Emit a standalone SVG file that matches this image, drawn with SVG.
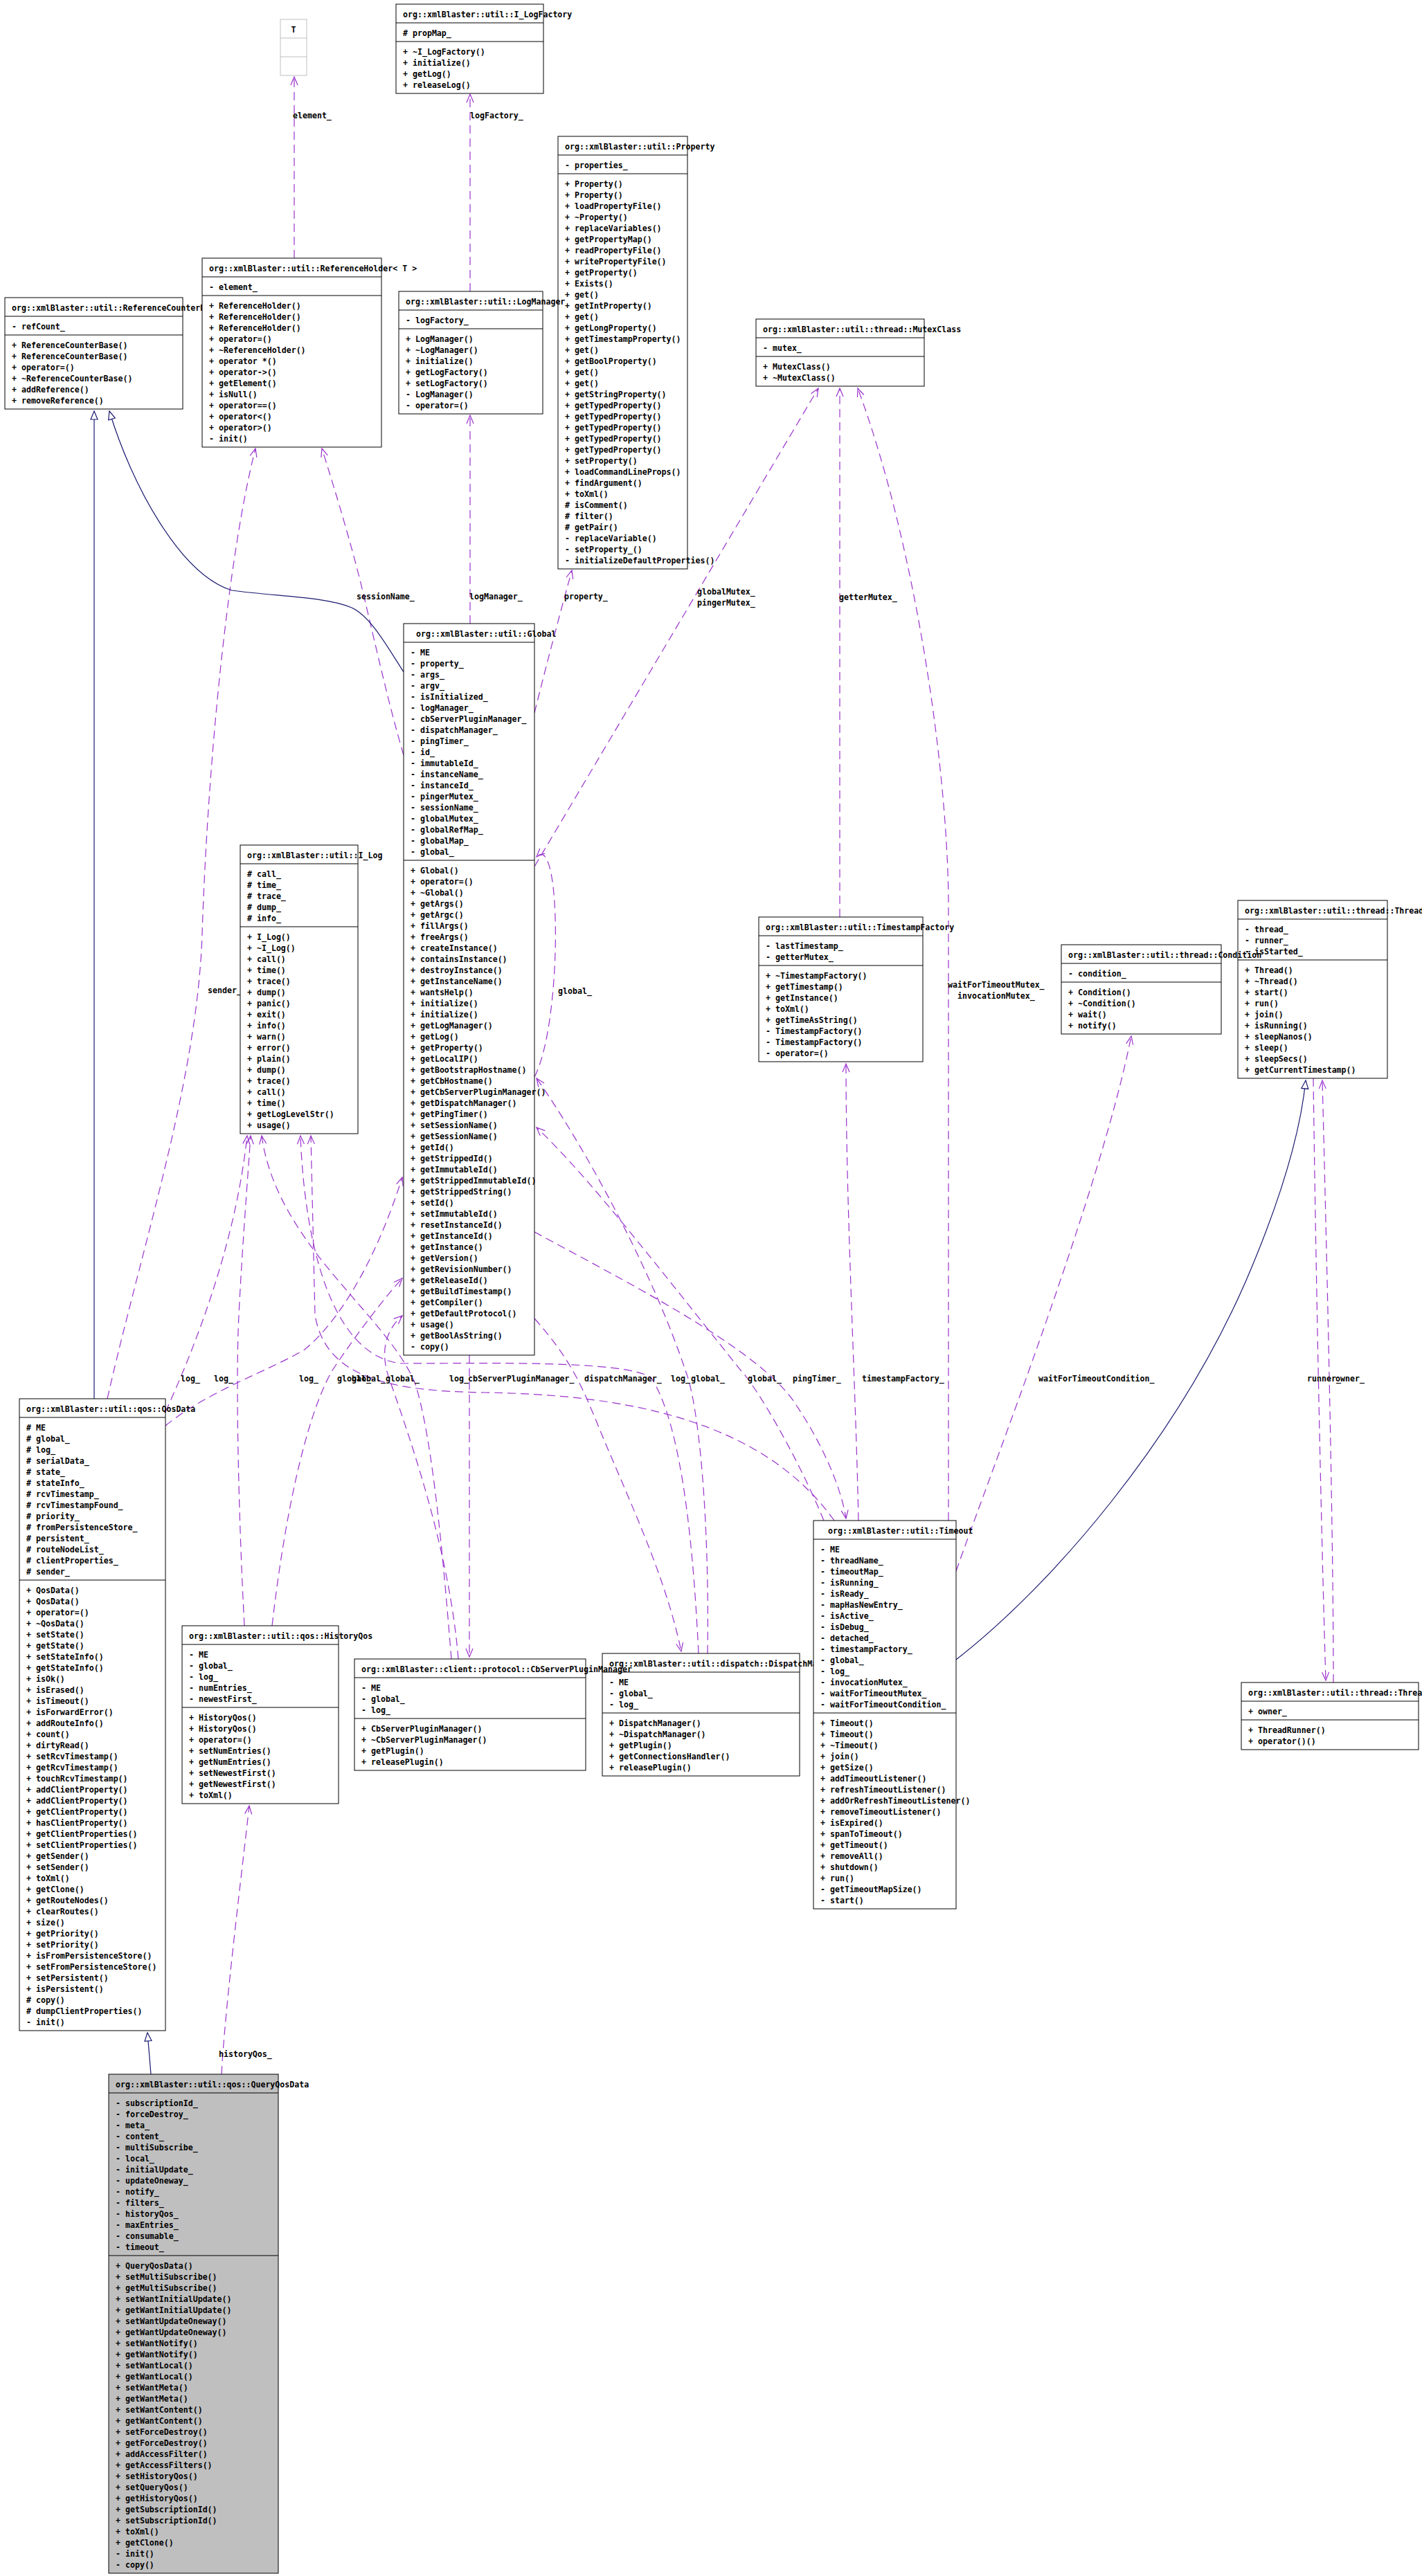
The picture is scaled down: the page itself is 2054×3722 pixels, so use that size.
<svg xmlns="http://www.w3.org/2000/svg" width="2054" height="3722" viewBox="0 0 2054 3722">
<defs>
<style>
.b{fill:#fff;stroke:#000;stroke-width:1}
.q{fill:#bfbfbf;stroke:#000;stroke-width:1}
.d{stroke:#000;stroke-width:1;fill:none}
text{font-family:"DejaVu Sans Mono","Liberation Mono",monospace;font-size:11.6px;font-weight:bold;fill:#000}
.e{fill:none;stroke:#9a32cd;stroke-width:1.2;stroke-dasharray:12,7;marker-end:url(#ah)}
.i{fill:none;stroke:#191970;stroke-width:1.2;marker-end:url(#tri)}
</style>
<marker id="ah" markerUnits="userSpaceOnUse" viewBox="-14 -8 16 16" markerWidth="16" markerHeight="16" refX="0" refY="0" orient="auto"><path d="M-12 -5L0 0L-12 5" fill="none" stroke="#9a32cd" stroke-width="1.2"/></marker>
<marker id="tri" markerUnits="userSpaceOnUse" viewBox="-15 -8 17 16" markerWidth="17" markerHeight="16" refX="0" refY="0" orient="auto"><path d="M-12 -5L0 0L-12 5Z" fill="#fff" stroke="#191970" stroke-width="1.2"/></marker>
</defs>
<rect width="2054" height="3722" fill="#fff"/>
<g id="edges">
<path class="e" d="M425 373V111"/>
<path class="e" d="M679 421V136"/>
<path class="e" d="M679 901V600"/>
<path class="e" d="M772 1030C788 965 812 875 826 824"/>
<path class="e" d="M583 1091C562 1020 542 930 530 880C512 800 485 712 465 648"/>
<path class="e" d="M155 2021C205 1800 285 1560 292 1350C300 1100 330 800 369 648"/>
<path class="e" d="M772 1252L1182 561"/>
<path class="e" d="M1213 1325V561"/>
<path class="e" d="M1370 2197V1300C1368 1100 1320 780 1239 561"/>
<path class="e" d="M1240 2197C1236 2000 1222 1750 1222 1537"/>
<path class="e" d="M1381 2270C1430 2130 1590 1720 1634 1497"/>
<path class="e" d="M1897 1558C1900 1800 1908 2200 1915 2428"/>
<path class="e" d="M1926 2431C1926 2200 1916 1800 1910 1561"/>
<path class="e" d="M678 1958V2394"/>
<path class="e" d="M772 1905C820 1960 835 1990 860 2050C900 2150 960 2270 984 2386"/>
<path class="e" d="M772 1780C900 1850 1100 1950 1150 2030C1190 2090 1215 2150 1222 2194"/>
<path class="e" d="M1022 2389C1025 2200 1010 2030 990 1980C940 1830 840 1650 775 1558"/>
<path class="e" d="M1190 2197C1150 2100 1090 2000 1070 1980C950 1830 850 1700 775 1629"/>
<path class="e" d="M1009 2389C1000 2200 980 2050 940 1990C900 1965 700 1970 580 1970C480 1960 440 1800 434 1641"/>
<path class="e" d="M1205 2197C1100 2050 900 2015 700 2012C560 2010 470 1990 455 1900L449 1641"/>
<path class="e" d="M652 2397C640 2250 625 2080 600 2000C560 1900 400 1800 378 1641"/>
<path class="e" d="M662 2397C650 2250 600 2100 565 2000C545 1950 560 1920 581 1901"/>
<path class="e" d="M353 2349C345 2200 340 2000 345 1900C350 1800 358 1700 362 1641"/>
<path class="e" d="M393 2349C410 2200 440 2050 480 1980C520 1920 560 1870 581 1847"/>
<path class="e" d="M239 2040C280 1950 340 1800 357 1641"/>
<path class="e" d="M239 2060C300 2010 390 1980 440 1950C500 1900 550 1800 581 1701"/>
<path class="e" d="M772 1556C812 1480 812 1200 775 1238"/>
<path class="e" d="M320 2997C325 2900 350 2700 360 2609"/>
<path class="i" d="M136 2021V594"/>
<path class="i" d="M583 971C560 935 535 890 508 878C470 862 400 862 335 853C260 830 190 700 158 594"/>
<path class="i" d="M218 2997L213 2937"/>
<path class="i" d="M1381 2398C1520 2290 1700 2080 1800 1850C1860 1710 1880 1620 1886 1561"/>
<text x="423" y="171">element_</text>
<text x="679" y="171">logFactory_</text>
<text x="515" y="866">sessionName_</text>
<text x="678" y="866">logManager_</text>
<text x="815" y="866">property_</text>
<text x="1007" y="859">globalMutex_</text>
<text x="1007" y="875">pingerMutex_</text>
<text x="1212" y="867">getterMutex_</text>
<text x="300" y="1435">sender_</text>
<text x="806" y="1436">global_</text>
<text x="1369" y="1427">waitForTimeoutMutex_</text>
<text x="1383" y="1443">invocationMutex_</text>
<text x="261" y="1996">log_</text>
<text x="309" y="1996">log_</text>
<text x="432" y="1996">log_</text>
<text x="487" y="1996">global_</text>
<text x="508" y="1996">global_</text>
<text x="557" y="1996">global_</text>
<text x="649" y="1996">log_</text>
<text x="676" y="1996">cbServerPluginManager_</text>
<text x="844" y="1996">dispatchManager_</text>
<text x="969" y="1996">log_</text>
<text x="998" y="1996">global_</text>
<text x="1080" y="1996">global_</text>
<text x="1145" y="1996">pingTimer_</text>
<text x="1245" y="1996">timestampFactory_</text>
<text x="1500" y="1996">waitForTimeoutCondition_</text>
<text x="1888" y="1996">runner_</text>
<text x="1929" y="1996">owner_</text>
<text x="316" y="2972">historyQos_</text>
</g>
<g id="n_T"><rect x="405" y="28" width="38" height="81" fill="#fff" stroke="#bfbfbf"/><path d="M405 55h38M405 82h38" stroke="#bfbfbf"/><text x="424" y="47" text-anchor="middle">T</text></g>
<g id="n_I_LogFactory"><rect class="b" x="572" y="6" width="213" height="129"/><path class="d" d="M572 33h213M572 60h213"/><text x="582" y="25">org::xmlBlaster::util::I_LogFactory</text><text x="582" y="51.5"># propMap_</text><text y="78.5"><tspan x="582">+ ~I_LogFactory()</tspan><tspan x="582" dy="16">+ initialize()</tspan><tspan x="582" dy="16">+ getLog()</tspan><tspan x="582" dy="16">+ releaseLog()</tspan></text></g>
<g id="n_Property"><rect class="b" x="806" y="197" width="187" height="625"/><path class="d" d="M806 224h187M806 251h187"/><text x="816" y="216">org::xmlBlaster::util::Property</text><text x="816" y="242.5">- properties_</text><text y="269.5"><tspan x="816">+ Property()</tspan><tspan x="816" dy="16">+ Property()</tspan><tspan x="816" dy="16">+ loadPropertyFile()</tspan><tspan x="816" dy="16">+ ~Property()</tspan><tspan x="816" dy="16">+ replaceVariables()</tspan><tspan x="816" dy="16">+ getPropertyMap()</tspan><tspan x="816" dy="16">+ readPropertyFile()</tspan><tspan x="816" dy="16">+ writePropertyFile()</tspan><tspan x="816" dy="16">+ getProperty()</tspan><tspan x="816" dy="16">+ Exists()</tspan><tspan x="816" dy="16">+ get()</tspan><tspan x="816" dy="16">+ getIntProperty()</tspan><tspan x="816" dy="16">+ get()</tspan><tspan x="816" dy="16">+ getLongProperty()</tspan><tspan x="816" dy="16">+ getTimestampProperty()</tspan><tspan x="816" dy="16">+ get()</tspan><tspan x="816" dy="16">+ getBoolProperty()</tspan><tspan x="816" dy="16">+ get()</tspan><tspan x="816" dy="16">+ get()</tspan><tspan x="816" dy="16">+ getStringProperty()</tspan><tspan x="816" dy="16">+ getTypedProperty()</tspan><tspan x="816" dy="16">+ getTypedProperty()</tspan><tspan x="816" dy="16">+ getTypedProperty()</tspan><tspan x="816" dy="16">+ getTypedProperty()</tspan><tspan x="816" dy="16">+ getTypedProperty()</tspan><tspan x="816" dy="16">+ setProperty()</tspan><tspan x="816" dy="16">+ loadCommandLineProps()</tspan><tspan x="816" dy="16">+ findArgument()</tspan><tspan x="816" dy="16">+ toXml()</tspan><tspan x="816" dy="16"># isComment()</tspan><tspan x="816" dy="16"># filter()</tspan><tspan x="816" dy="16"># getPair()</tspan><tspan x="816" dy="16">- replaceVariable()</tspan><tspan x="816" dy="16">- setProperty_()</tspan><tspan x="816" dy="16">- initializeDefaultProperties()</tspan></text></g>
<g id="n_LogManager"><rect class="b" x="576" y="421" width="208" height="177"/><path class="d" d="M576 448h208M576 475h208"/><text x="586" y="440">org::xmlBlaster::util::LogManager</text><text x="586" y="466.5">- logFactory_</text><text y="493.5"><tspan x="586">+ LogManager()</tspan><tspan x="586" dy="16">+ ~LogManager()</tspan><tspan x="586" dy="16">+ initialize()</tspan><tspan x="586" dy="16">+ getLogFactory()</tspan><tspan x="586" dy="16">+ setLogFactory()</tspan><tspan x="586" dy="16">- LogManager()</tspan><tspan x="586" dy="16">- operator=()</tspan></text></g>
<g id="n_ReferenceCounterBase"><rect class="b" x="7" y="430" width="257" height="161"/><path class="d" d="M7 457h257M7 484h257"/><text x="17" y="449">org::xmlBlaster::util::ReferenceCounterBase</text><text x="17" y="475.5">- refCount_</text><text y="502.5"><tspan x="17">+ ReferenceCounterBase()</tspan><tspan x="17" dy="16">+ ReferenceCounterBase()</tspan><tspan x="17" dy="16">+ operator=()</tspan><tspan x="17" dy="16">+ ~ReferenceCounterBase()</tspan><tspan x="17" dy="16">+ addReference()</tspan><tspan x="17" dy="16">+ removeReference()</tspan></text></g>
<g id="n_ReferenceHolder"><rect class="b" x="292" y="373" width="259" height="273"/><path class="d" d="M292 400h259M292 427h259"/><text x="302" y="392">org::xmlBlaster::util::ReferenceHolder&lt; T &gt;</text><text x="302" y="418.5">- element_</text><text y="445.5"><tspan x="302">+ ReferenceHolder()</tspan><tspan x="302" dy="16">+ ReferenceHolder()</tspan><tspan x="302" dy="16">+ ReferenceHolder()</tspan><tspan x="302" dy="16">+ operator=()</tspan><tspan x="302" dy="16">+ ~ReferenceHolder()</tspan><tspan x="302" dy="16">+ operator *()</tspan><tspan x="302" dy="16">+ operator-&gt;()</tspan><tspan x="302" dy="16">+ getElement()</tspan><tspan x="302" dy="16">+ isNull()</tspan><tspan x="302" dy="16">+ operator==()</tspan><tspan x="302" dy="16">+ operator&lt;()</tspan><tspan x="302" dy="16">+ operator&gt;()</tspan><tspan x="302" dy="16">- init()</tspan></text></g>
<g id="n_MutexClass"><rect class="b" x="1092" y="461" width="243" height="97"/><path class="d" d="M1092 488h243M1092 515h243"/><text x="1102" y="480">org::xmlBlaster::util::thread::MutexClass</text><text x="1102" y="506.5">- mutex_</text><text y="533.5"><tspan x="1102">+ MutexClass()</tspan><tspan x="1102" dy="16">+ ~MutexClass()</tspan></text></g>
<g id="n_Global"><rect class="b" x="583" y="901" width="189" height="1057"/><path class="d" d="M583 928h189M583 1243h189"/><text x="601" y="920">org::xmlBlaster::util::Global</text><text y="946.5"><tspan x="593">- ME</tspan><tspan x="593" dy="16">- property_</tspan><tspan x="593" dy="16">- args_</tspan><tspan x="593" dy="16">- argv_</tspan><tspan x="593" dy="16">- isInitialized_</tspan><tspan x="593" dy="16">- logManager_</tspan><tspan x="593" dy="16">- cbServerPluginManager_</tspan><tspan x="593" dy="16">- dispatchManager_</tspan><tspan x="593" dy="16">- pingTimer_</tspan><tspan x="593" dy="16">- id_</tspan><tspan x="593" dy="16">- immutableId_</tspan><tspan x="593" dy="16">- instanceName_</tspan><tspan x="593" dy="16">- instanceId_</tspan><tspan x="593" dy="16">- pingerMutex_</tspan><tspan x="593" dy="16">- sessionName_</tspan><tspan x="593" dy="16">- globalMutex_</tspan><tspan x="593" dy="16">- globalRefMap_</tspan><tspan x="593" dy="16">- globalMap_</tspan><tspan x="593" dy="16">- global_</tspan></text><text y="1261.5"><tspan x="593">+ Global()</tspan><tspan x="593" dy="16">+ operator=()</tspan><tspan x="593" dy="16">+ ~Global()</tspan><tspan x="593" dy="16">+ getArgs()</tspan><tspan x="593" dy="16">+ getArgc()</tspan><tspan x="593" dy="16">+ fillArgs()</tspan><tspan x="593" dy="16">+ freeArgs()</tspan><tspan x="593" dy="16">+ createInstance()</tspan><tspan x="593" dy="16">+ containsInstance()</tspan><tspan x="593" dy="16">+ destroyInstance()</tspan><tspan x="593" dy="16">+ getInstanceName()</tspan><tspan x="593" dy="16">+ wantsHelp()</tspan><tspan x="593" dy="16">+ initialize()</tspan><tspan x="593" dy="16">+ initialize()</tspan><tspan x="593" dy="16">+ getLogManager()</tspan><tspan x="593" dy="16">+ getLog()</tspan><tspan x="593" dy="16">+ getProperty()</tspan><tspan x="593" dy="16">+ getLocalIP()</tspan><tspan x="593" dy="16">+ getBootstrapHostname()</tspan><tspan x="593" dy="16">+ getCbHostname()</tspan><tspan x="593" dy="16">+ getCbServerPluginManager()</tspan><tspan x="593" dy="16">+ getDispatchManager()</tspan><tspan x="593" dy="16">+ getPingTimer()</tspan><tspan x="593" dy="16">+ setSessionName()</tspan><tspan x="593" dy="16">+ getSessionName()</tspan><tspan x="593" dy="16">+ getId()</tspan><tspan x="593" dy="16">+ getStrippedId()</tspan><tspan x="593" dy="16">+ getImmutableId()</tspan><tspan x="593" dy="16">+ getStrippedImmutableId()</tspan><tspan x="593" dy="16">+ getStrippedString()</tspan><tspan x="593" dy="16">+ setId()</tspan><tspan x="593" dy="16">+ setImmutableId()</tspan><tspan x="593" dy="16">+ resetInstanceId()</tspan><tspan x="593" dy="16">+ getInstanceId()</tspan><tspan x="593" dy="16">+ getInstance()</tspan><tspan x="593" dy="16">+ getVersion()</tspan><tspan x="593" dy="16">+ getRevisionNumber()</tspan><tspan x="593" dy="16">+ getReleaseId()</tspan><tspan x="593" dy="16">+ getBuildTimestamp()</tspan><tspan x="593" dy="16">+ getCompiler()</tspan><tspan x="593" dy="16">+ getDefaultProtocol()</tspan><tspan x="593" dy="16">+ usage()</tspan><tspan x="593" dy="16">+ getBoolAsString()</tspan><tspan x="593" dy="16">- copy()</tspan></text></g>
<g id="n_I_Log"><rect class="b" x="347" y="1221" width="170" height="417"/><path class="d" d="M347 1248h170M347 1339h170"/><text x="357" y="1240">org::xmlBlaster::util::I_Log</text><text y="1266.5"><tspan x="357"># call_</tspan><tspan x="357" dy="16"># time_</tspan><tspan x="357" dy="16"># trace_</tspan><tspan x="357" dy="16"># dump_</tspan><tspan x="357" dy="16"># info_</tspan></text><text y="1357.5"><tspan x="357">+ I_Log()</tspan><tspan x="357" dy="16">+ ~I_Log()</tspan><tspan x="357" dy="16">+ call()</tspan><tspan x="357" dy="16">+ time()</tspan><tspan x="357" dy="16">+ trace()</tspan><tspan x="357" dy="16">+ dump()</tspan><tspan x="357" dy="16">+ panic()</tspan><tspan x="357" dy="16">+ exit()</tspan><tspan x="357" dy="16">+ info()</tspan><tspan x="357" dy="16">+ warn()</tspan><tspan x="357" dy="16">+ error()</tspan><tspan x="357" dy="16">+ plain()</tspan><tspan x="357" dy="16">+ dump()</tspan><tspan x="357" dy="16">+ trace()</tspan><tspan x="357" dy="16">+ call()</tspan><tspan x="357" dy="16">+ time()</tspan><tspan x="357" dy="16">+ getLogLevelStr()</tspan><tspan x="357" dy="16">+ usage()</tspan></text></g>
<g id="n_TimestampFactory"><rect class="b" x="1096" y="1325" width="237" height="209"/><path class="d" d="M1096 1352h237M1096 1395h237"/><text x="1106" y="1344">org::xmlBlaster::util::TimestampFactory</text><text y="1370.5"><tspan x="1106">- lastTimestamp_</tspan><tspan x="1106" dy="16">- getterMutex_</tspan></text><text y="1413.5"><tspan x="1106">+ ~TimestampFactory()</tspan><tspan x="1106" dy="16">+ getTimestamp()</tspan><tspan x="1106" dy="16">+ getInstance()</tspan><tspan x="1106" dy="16">+ toXml()</tspan><tspan x="1106" dy="16">+ getTimeAsString()</tspan><tspan x="1106" dy="16">- TimestampFactory()</tspan><tspan x="1106" dy="16">- TimestampFactory()</tspan><tspan x="1106" dy="16">- operator=()</tspan></text></g>
<g id="n_Thread"><rect class="b" x="1788" y="1301" width="216" height="257"/><path class="d" d="M1788 1328h216M1788 1387h216"/><text x="1798" y="1320">org::xmlBlaster::util::thread::Thread</text><text y="1346.5"><tspan x="1798">- thread_</tspan><tspan x="1798" dy="16">- runner_</tspan><tspan x="1798" dy="16">- isStarted_</tspan></text><text y="1405.5"><tspan x="1798">+ Thread()</tspan><tspan x="1798" dy="16">+ ~Thread()</tspan><tspan x="1798" dy="16">+ start()</tspan><tspan x="1798" dy="16">+ run()</tspan><tspan x="1798" dy="16">+ join()</tspan><tspan x="1798" dy="16">+ isRunning()</tspan><tspan x="1798" dy="16">+ sleepNanos()</tspan><tspan x="1798" dy="16">+ sleep()</tspan><tspan x="1798" dy="16">+ sleepSecs()</tspan><tspan x="1798" dy="16">+ getCurrentTimestamp()</tspan></text></g>
<g id="n_Condition"><rect class="b" x="1533" y="1365" width="231" height="129"/><path class="d" d="M1533 1392h231M1533 1419h231"/><text x="1543" y="1384">org::xmlBlaster::util::thread::Condition</text><text x="1543" y="1410.5">- condition_</text><text y="1437.5"><tspan x="1543">+ Condition()</tspan><tspan x="1543" dy="16">+ ~Condition()</tspan><tspan x="1543" dy="16">+ wait()</tspan><tspan x="1543" dy="16">+ notify()</tspan></text></g>
<g id="n_QosData"><rect class="b" x="28" y="2021" width="211" height="913"/><path class="d" d="M28 2048h211M28 2283h211"/><text x="38" y="2040">org::xmlBlaster::util::qos::QosData</text><text y="2066.5"><tspan x="38"># ME</tspan><tspan x="38" dy="16"># global_</tspan><tspan x="38" dy="16"># log_</tspan><tspan x="38" dy="16"># serialData_</tspan><tspan x="38" dy="16"># state_</tspan><tspan x="38" dy="16"># stateInfo_</tspan><tspan x="38" dy="16"># rcvTimestamp_</tspan><tspan x="38" dy="16"># rcvTimestampFound_</tspan><tspan x="38" dy="16"># priority_</tspan><tspan x="38" dy="16"># fromPersistenceStore_</tspan><tspan x="38" dy="16"># persistent_</tspan><tspan x="38" dy="16"># routeNodeList_</tspan><tspan x="38" dy="16"># clientProperties_</tspan><tspan x="38" dy="16"># sender_</tspan></text><text y="2301.5"><tspan x="38">+ QosData()</tspan><tspan x="38" dy="16">+ QosData()</tspan><tspan x="38" dy="16">+ operator=()</tspan><tspan x="38" dy="16">+ ~QosData()</tspan><tspan x="38" dy="16">+ setState()</tspan><tspan x="38" dy="16">+ getState()</tspan><tspan x="38" dy="16">+ setStateInfo()</tspan><tspan x="38" dy="16">+ getStateInfo()</tspan><tspan x="38" dy="16">+ isOk()</tspan><tspan x="38" dy="16">+ isErased()</tspan><tspan x="38" dy="16">+ isTimeout()</tspan><tspan x="38" dy="16">+ isForwardError()</tspan><tspan x="38" dy="16">+ addRouteInfo()</tspan><tspan x="38" dy="16">+ count()</tspan><tspan x="38" dy="16">+ dirtyRead()</tspan><tspan x="38" dy="16">+ setRcvTimestamp()</tspan><tspan x="38" dy="16">+ getRcvTimestamp()</tspan><tspan x="38" dy="16">+ touchRcvTimestamp()</tspan><tspan x="38" dy="16">+ addClientProperty()</tspan><tspan x="38" dy="16">+ addClientProperty()</tspan><tspan x="38" dy="16">+ getClientProperty()</tspan><tspan x="38" dy="16">+ hasClientProperty()</tspan><tspan x="38" dy="16">+ getClientProperties()</tspan><tspan x="38" dy="16">+ setClientProperties()</tspan><tspan x="38" dy="16">+ getSender()</tspan><tspan x="38" dy="16">+ setSender()</tspan><tspan x="38" dy="16">+ toXml()</tspan><tspan x="38" dy="16">+ getClone()</tspan><tspan x="38" dy="16">+ getRouteNodes()</tspan><tspan x="38" dy="16">+ clearRoutes()</tspan><tspan x="38" dy="16">+ size()</tspan><tspan x="38" dy="16">+ getPriority()</tspan><tspan x="38" dy="16">+ setPriority()</tspan><tspan x="38" dy="16">+ isFromPersistenceStore()</tspan><tspan x="38" dy="16">+ setFromPersistenceStore()</tspan><tspan x="38" dy="16">+ setPersistent()</tspan><tspan x="38" dy="16">+ isPersistent()</tspan><tspan x="38" dy="16"># copy()</tspan><tspan x="38" dy="16"># dumpClientProperties()</tspan><tspan x="38" dy="16">- init()</tspan></text></g>
<g id="n_HistoryQos"><rect class="b" x="263" y="2349" width="226" height="257"/><path class="d" d="M263 2376h226M263 2467h226"/><text x="273" y="2368">org::xmlBlaster::util::qos::HistoryQos</text><text y="2394.5"><tspan x="273">- ME</tspan><tspan x="273" dy="16">- global_</tspan><tspan x="273" dy="16">- log_</tspan><tspan x="273" dy="16">- numEntries_</tspan><tspan x="273" dy="16">- newestFirst_</tspan></text><text y="2485.5"><tspan x="273">+ HistoryQos()</tspan><tspan x="273" dy="16">+ HistoryQos()</tspan><tspan x="273" dy="16">+ operator=()</tspan><tspan x="273" dy="16">+ setNumEntries()</tspan><tspan x="273" dy="16">+ getNumEntries()</tspan><tspan x="273" dy="16">+ setNewestFirst()</tspan><tspan x="273" dy="16">+ getNewestFirst()</tspan><tspan x="273" dy="16">+ toXml()</tspan></text></g>
<g id="n_DispatchManager"><rect class="b" x="870" y="2389" width="285" height="177"/><path class="d" d="M870 2416h285M870 2475h285"/><text x="880" y="2408">org::xmlBlaster::util::dispatch::DispatchManager</text><text y="2434.5"><tspan x="880">- ME</tspan><tspan x="880" dy="16">- global_</tspan><tspan x="880" dy="16">- log_</tspan></text><text y="2493.5"><tspan x="880">+ DispatchManager()</tspan><tspan x="880" dy="16">+ ~DispatchManager()</tspan><tspan x="880" dy="16">+ getPlugin()</tspan><tspan x="880" dy="16">+ getConnectionsHandler()</tspan><tspan x="880" dy="16">+ releasePlugin()</tspan></text></g>
<g id="n_CbServerPluginManager"><rect class="b" x="512" y="2397" width="334" height="161"/><path class="d" d="M512 2424h334M512 2483h334"/><text x="522" y="2416">org::xmlBlaster::client::protocol::CbServerPluginManager</text><text y="2442.5"><tspan x="522">- ME</tspan><tspan x="522" dy="16">- global_</tspan><tspan x="522" dy="16">- log_</tspan></text><text y="2501.5"><tspan x="522">+ CbServerPluginManager()</tspan><tspan x="522" dy="16">+ ~CbServerPluginManager()</tspan><tspan x="522" dy="16">+ getPlugin()</tspan><tspan x="522" dy="16">+ releasePlugin()</tspan></text></g>
<g id="n_Timeout"><rect class="b" x="1175" y="2197" width="206" height="561"/><path class="d" d="M1175 2224h206M1175 2475h206"/><text x="1196" y="2216">org::xmlBlaster::util::Timeout</text><text y="2242.5"><tspan x="1185">- ME</tspan><tspan x="1185" dy="16">- threadName_</tspan><tspan x="1185" dy="16">- timeoutMap_</tspan><tspan x="1185" dy="16">- isRunning_</tspan><tspan x="1185" dy="16">- isReady_</tspan><tspan x="1185" dy="16">- mapHasNewEntry_</tspan><tspan x="1185" dy="16">- isActive_</tspan><tspan x="1185" dy="16">- isDebug_</tspan><tspan x="1185" dy="16">- detached_</tspan><tspan x="1185" dy="16">- timestampFactory_</tspan><tspan x="1185" dy="16">- global_</tspan><tspan x="1185" dy="16">- log_</tspan><tspan x="1185" dy="16">- invocationMutex_</tspan><tspan x="1185" dy="16">- waitForTimeoutMutex_</tspan><tspan x="1185" dy="16">- waitForTimeoutCondition_</tspan></text><text y="2493.5"><tspan x="1185">+ Timeout()</tspan><tspan x="1185" dy="16">+ Timeout()</tspan><tspan x="1185" dy="16">+ ~Timeout()</tspan><tspan x="1185" dy="16">+ join()</tspan><tspan x="1185" dy="16">+ getSize()</tspan><tspan x="1185" dy="16">+ addTimeoutListener()</tspan><tspan x="1185" dy="16">+ refreshTimeoutListener()</tspan><tspan x="1185" dy="16">+ addOrRefreshTimeoutListener()</tspan><tspan x="1185" dy="16">+ removeTimeoutListener()</tspan><tspan x="1185" dy="16">+ isExpired()</tspan><tspan x="1185" dy="16">+ spanToTimeout()</tspan><tspan x="1185" dy="16">+ getTimeout()</tspan><tspan x="1185" dy="16">+ removeAll()</tspan><tspan x="1185" dy="16">+ shutdown()</tspan><tspan x="1185" dy="16">+ run()</tspan><tspan x="1185" dy="16">- getTimeoutMapSize()</tspan><tspan x="1185" dy="16">- start()</tspan></text></g>
<g id="n_ThreadRunner"><rect class="b" x="1793" y="2431" width="256" height="97"/><path class="d" d="M1793 2458h256M1793 2485h256"/><text x="1803" y="2450">org::xmlBlaster::util::thread::ThreadRunner</text><text x="1803" y="2476.5">+ owner_</text><text y="2503.5"><tspan x="1803">+ ThreadRunner()</tspan><tspan x="1803" dy="16">+ operator()()</tspan></text></g>
<g id="n_QueryQosData"><rect class="q" x="157" y="2997" width="245" height="721"/><path class="d" d="M157 3024h245M157 3259h245"/><text x="167" y="3016">org::xmlBlaster::util::qos::QueryQosData</text><text y="3042.5"><tspan x="167">- subscriptionId_</tspan><tspan x="167" dy="16">- forceDestroy_</tspan><tspan x="167" dy="16">- meta_</tspan><tspan x="167" dy="16">- content_</tspan><tspan x="167" dy="16">- multiSubscribe_</tspan><tspan x="167" dy="16">- local_</tspan><tspan x="167" dy="16">- initialUpdate_</tspan><tspan x="167" dy="16">- updateOneway_</tspan><tspan x="167" dy="16">- notify_</tspan><tspan x="167" dy="16">- filters_</tspan><tspan x="167" dy="16">- historyQos_</tspan><tspan x="167" dy="16">- maxEntries_</tspan><tspan x="167" dy="16">- consumable_</tspan><tspan x="167" dy="16">- timeout_</tspan></text><text y="3277.5"><tspan x="167">+ QueryQosData()</tspan><tspan x="167" dy="16">+ setMultiSubscribe()</tspan><tspan x="167" dy="16">+ getMultiSubscribe()</tspan><tspan x="167" dy="16">+ setWantInitialUpdate()</tspan><tspan x="167" dy="16">+ getWantInitialUpdate()</tspan><tspan x="167" dy="16">+ setWantUpdateOneway()</tspan><tspan x="167" dy="16">+ getWantUpdateOneway()</tspan><tspan x="167" dy="16">+ setWantNotify()</tspan><tspan x="167" dy="16">+ getWantNotify()</tspan><tspan x="167" dy="16">+ setWantLocal()</tspan><tspan x="167" dy="16">+ getWantLocal()</tspan><tspan x="167" dy="16">+ setWantMeta()</tspan><tspan x="167" dy="16">+ getWantMeta()</tspan><tspan x="167" dy="16">+ setWantContent()</tspan><tspan x="167" dy="16">+ getWantContent()</tspan><tspan x="167" dy="16">+ setForceDestroy()</tspan><tspan x="167" dy="16">+ getForceDestroy()</tspan><tspan x="167" dy="16">+ addAccessFilter()</tspan><tspan x="167" dy="16">+ getAccessFilters()</tspan><tspan x="167" dy="16">+ setHistoryQos()</tspan><tspan x="167" dy="16">+ setQueryQos()</tspan><tspan x="167" dy="16">+ getHistoryQos()</tspan><tspan x="167" dy="16">+ getSubscriptionId()</tspan><tspan x="167" dy="16">+ setSubscriptionId()</tspan><tspan x="167" dy="16">+ toXml()</tspan><tspan x="167" dy="16">+ getClone()</tspan><tspan x="167" dy="16">- init()</tspan><tspan x="167" dy="16">- copy()</tspan></text></g>
</svg>
